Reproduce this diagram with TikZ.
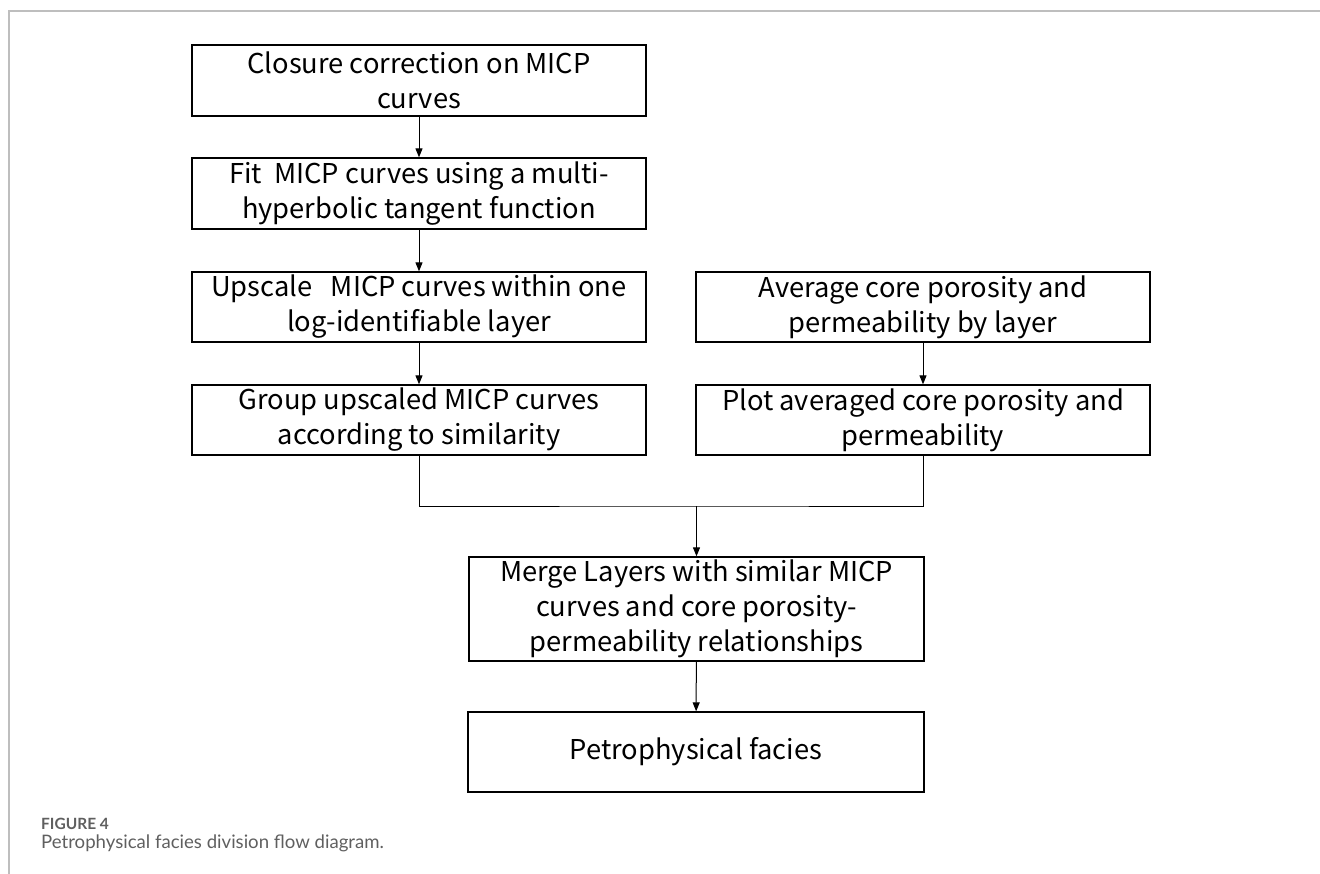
\documentclass[tikz,border=0pt]{standalone}
\usepackage{fontspec}
\setmainfont{Noto Sans CJK SC}
\newfontfamily\capfont{Lato}
\usetikzlibrary{arrows.meta, positioning, calc}
\definecolor{FrameGray}{RGB}{190,190,190}
\definecolor{CapGray}{RGB}{95,95,95}

\begin{document}
\begin{tikzpicture}[x=1pt, y=-1pt,
  stepbox/.style={draw, line width=1.3pt, minimum width=454pt,
    minimum height=71pt, inner sep=0pt, align=center,
    font=\fontsize{27.3}{35}\selectfont},
  flow/.style={line width=1pt, -{Triangle[length=9pt, width=7pt]}}]
  \useasboundingbox (0,0) rectangle (1320,874);

  % page frame
  \draw[FrameGray, line width=1.5pt] (1320,11) -- (9,11) -- (9,874);

  % left column
  \node[stepbox] (closure) at (419,80.5) {Closure correction on MICP\\curves};
  \node[stepbox] (fit) at (419,193.5)
    {Fit\ \ MICP curves using a multi-\\hyperbolic tangent function};
  \node[stepbox, minimum height=70pt] (upscale) at (419,307)
    {Upscale\ \ \ MICP curves within one\\log-identifiable layer};
  \node[stepbox, minimum height=70pt] (group) at (419,420)
    {Group upscaled MICP curves\\according to similarity};

  % right column
  \node[stepbox, minimum height=70pt] (average) at (923,307)
    {Average core porosity and\\permeability by layer};
  \node[stepbox, minimum height=70pt] (plot) at (923,420)
    {Plot averaged core porosity and\\permeability};

  % merge and result
  \node[stepbox, minimum width=455pt, minimum height=104pt] (merge) at (696.5,609)
    {Merge Layers with similar MICP\\curves and core porosity-\\permeability relationships};
  \node[stepbox, minimum width=456pt, minimum height=80pt] (facies) at (696,752)
    {Petrophysical facies};

  % arrows
  \foreach \a/\b in {closure/fit, fit/upscale, upscale/group, average/plot}
    \draw[flow] (\a) -- (\b);

  \coordinate (join) at (696.5,506);
  \draw[line width=1pt] (group.south) |- (join) -| (plot.south);
  \draw[flow] (join) -- (merge);
  \draw[flow] (merge) -- (facies);

  % caption
  \node[anchor=base west, inner sep=0pt, text=CapGray,
    font=\capfont\bfseries\fontsize{15.5}{18}\selectfont] (figno) at (41,829) {FIGURE 4};
  \node[anchor=base west, inner sep=0pt, text=CapGray,
    font=\capfont\fontsize{18.6}{21}\selectfont] (figcap) at (41,848)
    {Petrophysical facies division flow diagram.};
\end{tikzpicture}
\end{document}
